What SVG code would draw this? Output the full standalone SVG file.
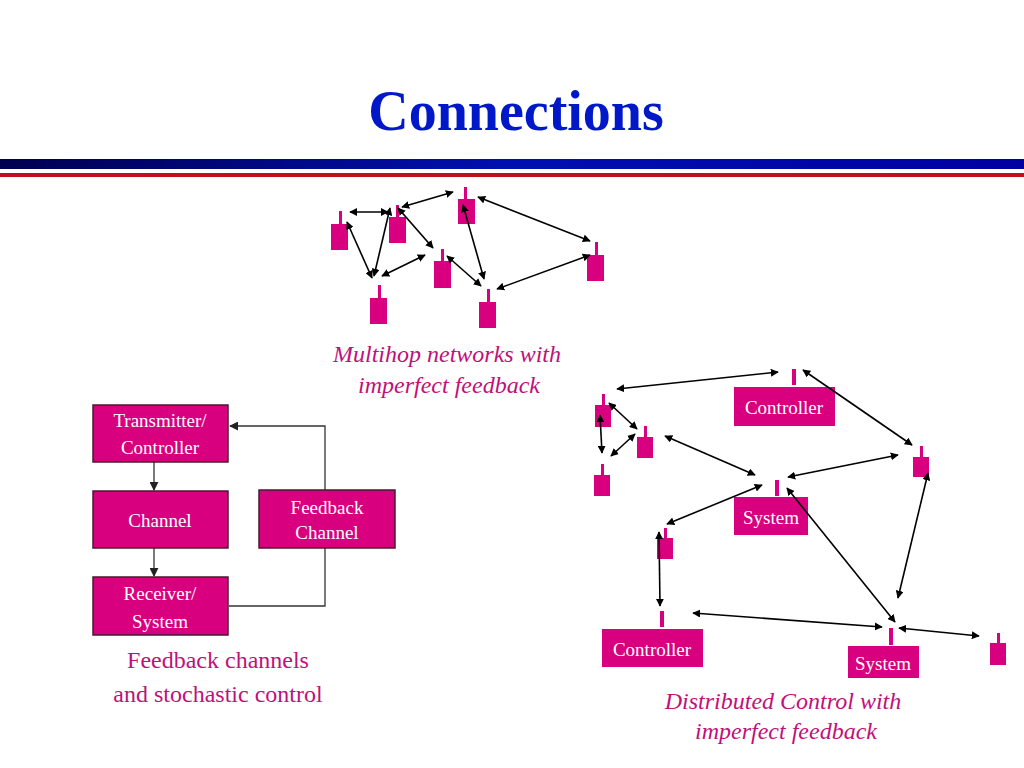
<svg xmlns="http://www.w3.org/2000/svg" width="1024" height="768" viewBox="0 0 1024 768">
<defs>
<linearGradient id="band" x1="0" x2="1" y1="0" y2="0"><stop offset="0" stop-color="#000050"/><stop offset="0.5" stop-color="#0010b0"/><stop offset="1" stop-color="#0000a0"/></linearGradient>
<marker id="ah" viewBox="0 0 10 10" refX="9" refY="5" markerWidth="8" markerHeight="8" markerUnits="userSpaceOnUse" orient="auto-start-reverse"><path d="M0,0 L10,5 L0,10 z" fill="#000"/></marker>
<marker id="ah2" viewBox="0 0 10 10" refX="9" refY="5" markerWidth="9" markerHeight="9" markerUnits="userSpaceOnUse" orient="auto"><path d="M0,0 L10,5 L0,10 z" fill="#222"/></marker>
</defs>
<style>
.r{fill:#D8007F}
.bx{fill:#D8007F;stroke:#4a1a30;stroke-width:1.5}
.bt{fill:#fff;font-family:"Liberation Serif",serif;font-size:19px;text-anchor:middle}
.c line{stroke:#000;stroke-width:1.6;marker-start:url(#ah);marker-end:url(#ah)}
.it{fill:#C0107A;font-family:"Liberation Serif",serif;font-style:italic;font-size:24px;text-anchor:middle}
</style>
<rect width="1024" height="768" fill="#fff"/>
<text x="516" y="130" text-anchor="middle" font-family="Liberation Serif,serif" font-weight="bold" font-size="56" fill="#0018C8">Connections</text>
<rect x="0" y="159" width="1024" height="10" fill="url(#band)"/>
<rect x="0" y="173" width="1024" height="4" fill="#c01020"/>

<g id="radios">
<g id="rA"><rect class="r" x="339" y="211" width="3" height="13"/><rect class="r" x="331" y="224" width="17" height="26"/></g>
<g id="rB"><rect class="r" x="396" y="205" width="3" height="12"/><rect class="r" x="389" y="217" width="17" height="26"/></g>
<g id="rC"><rect class="r" x="464" y="187" width="3" height="12"/><rect class="r" x="458" y="199" width="17" height="25"/></g>
<g id="rD"><rect class="r" x="441" y="249" width="3" height="12"/><rect class="r" x="434" y="261" width="17" height="27"/></g>
<g id="rE"><rect class="r" x="378" y="285" width="3" height="13"/><rect class="r" x="370" y="298" width="17" height="26"/></g>
<g id="rF"><rect class="r" x="487" y="289" width="3" height="13"/><rect class="r" x="479" y="302" width="17" height="26"/></g>
<g id="rG"><rect class="r" x="595" y="242" width="3" height="13"/><rect class="r" x="587" y="255" width="17" height="26"/></g>
<g id="r1"><rect class="r" x="602" y="394" width="3" height="11"/><rect class="r" x="595" y="405" width="16" height="22"/></g>
<g id="r2"><rect class="r" x="644" y="426" width="3" height="11"/><rect class="r" x="637" y="437" width="16" height="21"/></g>
<g id="r3"><rect class="r" x="601" y="464" width="3" height="11"/><rect class="r" x="594" y="475" width="16" height="21"/></g>
<g id="r4"><rect class="r" x="920" y="446" width="3" height="11"/><rect class="r" x="913" y="457" width="16" height="20"/></g>
<g id="r5"><rect class="r" x="664" y="528" width="3" height="10"/><rect class="r" x="657" y="538" width="16" height="21"/></g>
<g id="r6"><rect class="r" x="997" y="633" width="3" height="10"/><rect class="r" x="990" y="643" width="16" height="22"/></g>
<g id="ctrlTop"><rect class="r" x="792" y="369" width="4" height="16"/><rect class="r" x="734" y="387" width="101" height="39"/><text class="bt" x="784" y="414">Controller</text></g>
<g id="sysMid"><rect class="r" x="775" y="480" width="4" height="16"/><rect class="r" x="734" y="497" width="74" height="38"/><text class="bt" x="771" y="524">System</text></g>
<g id="ctrlBot"><rect class="r" x="660" y="611" width="4" height="16"/><rect class="r" x="602" y="629" width="101" height="38"/><text class="bt" x="652" y="656">Controller</text></g>
<g id="sysBot"><rect class="r" x="889" y="628" width="4" height="17"/><rect class="r" x="848" y="646" width="71" height="32"/><text class="bt" x="883" y="670">System</text></g>
</g>

<g id="connectors" class="c">
<line x1="350" y1="212" x2="388" y2="212"/>
<line x1="402" y1="207" x2="453" y2="192"/>
<line x1="347" y1="222" x2="372" y2="278"/>
<line x1="390" y1="208" x2="374" y2="276"/>
<line x1="398" y1="208" x2="433" y2="248"/>
<line x1="382" y1="276" x2="425" y2="255"/>
<line x1="447" y1="256" x2="481" y2="286"/>
<line x1="463" y1="205" x2="484" y2="279"/>
<line x1="478" y1="197" x2="590" y2="241"/>
<line x1="497" y1="289" x2="590" y2="255"/>
<line x1="617" y1="389" x2="778" y2="372"/>
<line x1="803" y1="370" x2="912" y2="445"/>
<line x1="609" y1="403" x2="637" y2="429"/>
<line x1="600" y1="415" x2="602" y2="453"/>
<line x1="611" y1="456" x2="635" y2="434"/>
<line x1="665" y1="436" x2="755" y2="475"/>
<line x1="788" y1="477" x2="898" y2="455"/>
<line x1="762" y1="485" x2="667" y2="524"/>
<line x1="928" y1="473" x2="898" y2="598"/>
<line x1="659" y1="532" x2="660" y2="606"/>
<line x1="787" y1="488" x2="895" y2="622"/>
<line x1="693" y1="613" x2="882" y2="627"/>
<line x1="899" y1="628" x2="979" y2="636"/>
</g>

<g id="feedbackLinks" fill="none" stroke="#333" stroke-width="1.3">
<line x1="154" y1="462" x2="154" y2="490" marker-end="url(#ah2)"/>
<line x1="154" y1="548" x2="154" y2="576" marker-end="url(#ah2)"/>
<polyline points="325,490 325,426 230,426" marker-end="url(#ah2)"/>
<polyline points="229,606 325,606 325,548"/>
</g>
<g id="tx"><rect class="bx" x="93" y="405" width="135" height="57"/><text class="bt" x="160" y="427">Transmitter/</text><text class="bt" x="160" y="454">Controller</text></g>
<g id="ch"><rect class="bx" x="93" y="491" width="135" height="57"/><text class="bt" x="160" y="527">Channel</text></g>
<g id="rx"><rect class="bx" x="93" y="577" width="135" height="58"/><text class="bt" x="160" y="600">Receiver/</text><text class="bt" x="160" y="628">System</text></g>
<g id="fb"><rect class="bx" x="259" y="490" width="136" height="58"/><text class="bt" x="327" y="514">Feedback</text><text class="bt" x="327" y="539">Channel</text></g>

<text class="it" x="447" y="362">Multihop networks with</text>
<text class="it" x="449" y="393">imperfect feedback</text>
<text class="it" x="783" y="709">Distributed Control with</text>
<text class="it" x="786" y="739">imperfect feedback</text>
<text x="218" y="668" text-anchor="middle" font-family="Liberation Serif,serif" font-size="24" fill="#C0107A">Feedback channels</text>
<text x="218" y="702" text-anchor="middle" font-family="Liberation Serif,serif" font-size="24" fill="#C0107A">and stochastic control</text>
</svg>
